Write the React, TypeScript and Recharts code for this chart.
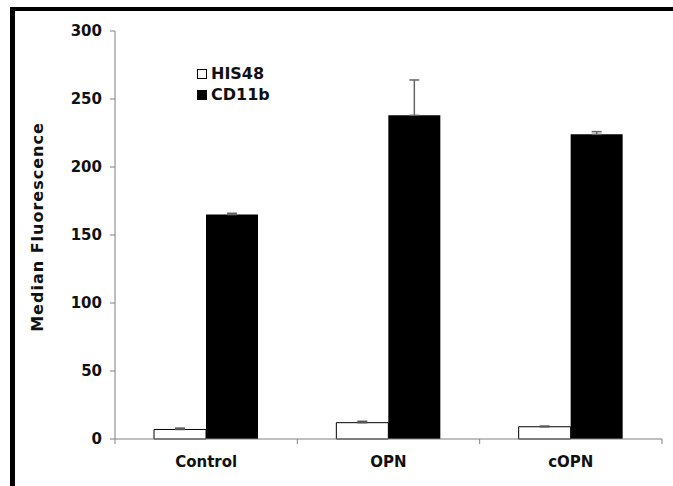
import { BarChart, Bar, XAxis, YAxis, ErrorBar, Legend } from "recharts";

const categories = ["Control", "OPN", "cOPN"];
const his48 = [7, 12, 9];
const his48Err = [1, 1, 0.5];
const cd11b = [165, 238, 224];
const cd11bErr = [1, 26, 2];
const yTicks = [0, 50, 100, 150, 200, 250, 300];
const legendOrder = ["HIS48", "CD11b"];

const data = categories.map((name, i) => ({
  name,
  his48: his48[i],
  his48Err: [0, his48Err[i]],
  cd11b: cd11b[i],
  cd11bErr: [0, cd11bErr[i]],
}));

const FONT = "'DejaVu Sans', Verdana, sans-serif";
const AXIS = "#808080";
const X_TICK_SIZE = 5;
const X_TICK_MARGIN = 12;

// category labels + boundary tick marks (Excel style)
function CategoryTick(props: any) {
  const { x, y, payload, index, visibleTicksCount } = props;
  const half = payload.offset ?? 0;
  const axisY = y - X_TICK_SIZE - X_TICK_MARGIN;
  const isLast = index === visibleTicksCount - 1;
  return (
    <g>
      <line x1={x - half} x2={x - half} y1={axisY} y2={axisY + X_TICK_SIZE} stroke={AXIS} />
      {isLast && (
        <line x1={x + half} x2={x + half} y1={axisY} y2={axisY + X_TICK_SIZE} stroke={AXIS} />
      )}
      <text x={x} y={y} dy="0.71em" textAnchor="middle" fontSize={15} fontWeight="bold" fontFamily={FONT} fill="#111">
        {payload.value}
      </text>
    </g>
  );
}

function YLabel(props: any) {
  const { viewBox } = props;
  const cx = viewBox.x + 37;
  const cy = viewBox.y + viewBox.height / 2 - 8;
  return (
    <text
      x={cx}
      y={cy}
      transform={`rotate(-90 ${cx} ${cy})`}
      textAnchor="middle"
      dominantBaseline="central"
      fontSize={16}
      fontWeight="bold"
      letterSpacing={1}
      fontFamily={FONT}
      fill="#111"
    >
      Median Fluorescence
    </text>
  );
}

function LegendBox(props: any) {
  const items = [...(props.payload || [])].sort(
    (a: any, b: any) => legendOrder.indexOf(a.value) - legendOrder.indexOf(b.value)
  );
  return (
    <div style={{ fontFamily: FONT }}>
      {items.map((p: any) => (
        <div key={p.value} style={{ display: "flex", alignItems: "center", height: 21 }}>
          <span
            style={{
              display: "inline-block",
              width: 8,
              height: 8,
              border: "1px solid #000",
              background: p.payload?.fill ?? p.color,
              marginRight: 4,
            }}
          />
          <span style={{ fontSize: 16, fontWeight: "bold", color: "#111" }}>{p.value}</span>
        </div>
      ))}
    </div>
  );
}

export default function App() {
  return (
    <div style={{ position: "fixed", left: 0, top: 0, width: 673, height: 486, background: "#fff", overflow: "hidden" }}>
      <div
        style={{
          position: "absolute",
          left: 10,
          top: 7,
          width: 700,
          height: 520,
          borderTop: "4px solid #000",
          borderLeft: "5px solid #000",
        }}
      />
      <div style={{ position: "absolute", left: 0, top: 0 }}>
        <BarChart
          width={673}
          height={486}
          data={data}
          margin={{ top: 31, right: 11, left: 0, bottom: 17 }}
          barSize={52}
          barGap={0}
        >
          <XAxis
            dataKey="name"
            height={30}
            stroke={AXIS}
            tickLine={false}
            tickSize={X_TICK_SIZE}
            tickMargin={X_TICK_MARGIN}
            tick={<CategoryTick />}
            interval={0}
          />
          <YAxis
            width={115}
            domain={[0, 300]}
            ticks={yTicks}
            stroke={AXIS}
            tickSize={5}
            tickMargin={8}
            tick={{ fontSize: 15, fontWeight: "bold", fontFamily: FONT, fill: "#111" }}
            label={<YLabel />}
          />
          <Legend
            layout="vertical"
            align="center"
            verticalAlign="middle"
            wrapperStyle={{ left: 197, top: 63, width: "auto", height: "auto" }}
            content={<LegendBox />}
          />
          <Bar dataKey="his48" name="HIS48" fill="#ffffff" stroke="#000" strokeWidth={1} isAnimationActive={false}>
            <ErrorBar dataKey="his48Err" width={5} stroke="#555" strokeWidth={1.5} direction="y" />
          </Bar>
          <Bar dataKey="cd11b" name="CD11b" fill="#000000" isAnimationActive={false}>
            <ErrorBar dataKey="cd11bErr" width={5} stroke="#666" strokeWidth={1.5} direction="y" />
          </Bar>
        </BarChart>
      </div>
    </div>
  );
}
